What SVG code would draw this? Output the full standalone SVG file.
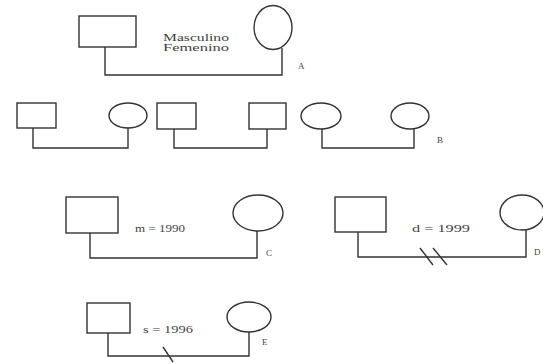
<svg xmlns="http://www.w3.org/2000/svg" width="543" height="364" viewBox="0 0 543 364">
<style>
.s{fill:#fff;stroke:#333;stroke-width:1.4}
.c{fill:none;stroke:#333;stroke-width:1.4}
.t{font-family:"Liberation Serif",serif;font-size:10px;fill:#444}
.l{font-family:"Liberation Serif",serif;font-size:9px;fill:#444}
</style>
<rect width="543" height="364" fill="#fff"/>
<g id="connectors">
<path class="c" d="M105 47V75H282V48"/>
<path class="c" d="M33 128V148H128V128"/>
<path class="c" d="M174 129V148H267V129"/>
<path class="c" d="M322 129V148H414V129"/>
<path class="c" d="M90 233V258H257V231"/>
<path class="c" d="M358 232V257H526V230"/>
<path class="c" d="M420 248L433 265M433 248L447 265"/>
<path class="c" d="M108 333V356H249V332"/>
<path class="c" d="M163 347L173 362"/>
</g>
<g id="A">
<rect class="s" x="79" y="16" width="57" height="31"/>
<ellipse class="s" cx="273" cy="27.5" rx="19" ry="22"/>
<text class="t" x="163" y="41" textLength="66" lengthAdjust="spacingAndGlyphs">Masculino</text>
<text class="t" x="163" y="51" textLength="66" lengthAdjust="spacingAndGlyphs">Femenino</text>
<text class="l" x="298" y="69">A</text>
</g>
<g id="B">
<rect class="s" x="17" y="103" width="39" height="25"/>
<ellipse class="s" cx="128" cy="115.5" rx="19" ry="12.5"/>
<rect class="s" x="157" y="103" width="39" height="26"/>
<rect class="s" x="249" y="103" width="37" height="26"/>
<ellipse class="s" cx="321" cy="116" rx="20" ry="13"/>
<ellipse class="s" cx="410" cy="116" rx="19" ry="13"/>
<text class="l" x="437" y="143">B</text>
</g>
<g id="C">
<rect class="s" x="66" y="197" width="52" height="36"/>
<ellipse class="s" cx="258" cy="213" rx="25" ry="18"/>
<text class="t" x="135" y="232" textLength="50" lengthAdjust="spacingAndGlyphs">m = 1990</text>
<text class="l" x="266" y="256">C</text>
</g>
<g id="D">
<rect class="s" x="335" y="197" width="51" height="35"/>
<ellipse class="s" cx="522" cy="212.5" rx="22" ry="17.5"/>
<text class="t" x="412" y="232" textLength="58" lengthAdjust="spacingAndGlyphs">d = 1999</text>
<text class="l" x="534" y="255">D</text>
</g>
<g id="E">
<rect class="s" x="87" y="303" width="43" height="30"/>
<ellipse class="s" cx="249" cy="317" rx="22" ry="15"/>
<text class="t" x="143" y="333" textLength="50" lengthAdjust="spacingAndGlyphs">s = 1996</text>
<text class="l" x="262" y="345">E</text>
</g>
</svg>
